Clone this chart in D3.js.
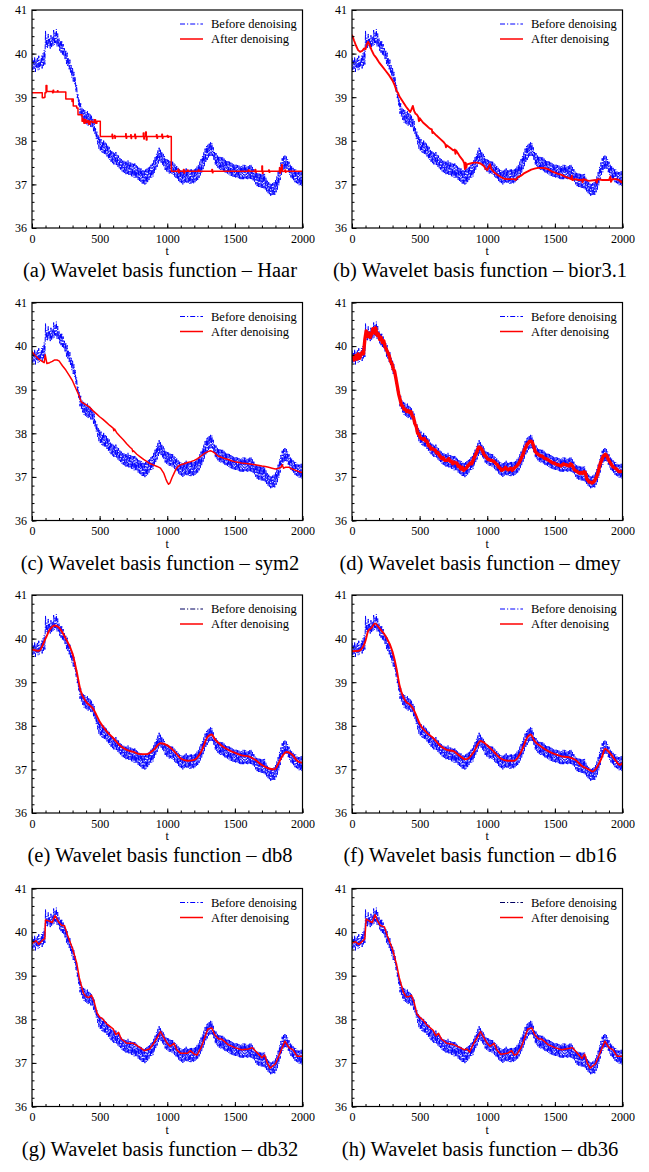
<!DOCTYPE html>
<html>
<head>
<meta charset="utf-8">
<script src="https://cdn.jsdelivr.net/npm/d3@7"></script>
<style>
html,body{margin:0;padding:0;background:#fff;}
svg{display:block;}
text{font-family:"Liberation Serif","Times New Roman",serif;fill:#000;}
</style>
</head>
<body>
<svg id="chart" width="649" height="1172"></svg>
<script>
// ---------------- DATA ----------------
const xTickLabels = [0, 500, 1000, 1500, 2000];
const yTickLabels = [36, 37, 38, 39, 40, 41];
const legendLabels = ["Before denoising", "After denoising"];
const captions = [
  "(a) Wavelet basis function \u2013 Haar",
  "(b) Wavelet basis function \u2013 bior3.1",
  "(c) Wavelet basis function \u2013 sym2",
  "(d) Wavelet basis function \u2013 dmey",
  "(e) Wavelet basis function \u2013 db8",
  "(f) Wavelet basis function \u2013 db16",
  "(g) Wavelet basis function \u2013 db32",
  "(h) Wavelet basis function \u2013 db36"
];

// Original (noisy) signal, sampled every 5 t from t = 0 to 2000
const beforeStep = 5;
const beforeValues = [
39.90,39.62,39.84,39.65,39.92,39.58,39.86,39.68,39.90,39.62,
39.95,39.64,39.86,39.70,39.95,39.66,40.00,39.72,40.08,39.75,
40.52,40.15,40.36,40.12,40.45,40.18,40.34,40.10,40.42,40.15,
40.38,40.18,40.54,40.20,40.48,40.24,40.56,40.16,40.46,40.15,
40.35,40.05,40.28,40.02,40.30,39.98,40.22,39.95,40.12,39.86,
40.08,39.76,40.02,39.70,39.90,39.64,39.86,39.55,39.73,39.45,
39.68,39.36,39.58,39.30,39.45,39.13,39.28,38.98,39.08,38.80,
38.95,38.62,38.86,38.55,38.76,38.48,38.72,38.42,38.70,38.40,
38.66,38.38,38.68,38.35,38.63,38.36,38.62,38.32,38.58,38.30,
38.52,38.22,38.45,38.15,38.30,38.04,38.22,37.92,38.12,37.82,
38.08,37.78,38.04,37.74,37.98,37.72,38.02,37.70,37.96,37.68,
37.95,37.64,37.90,37.60,37.86,37.56,37.80,37.52,37.76,37.48,
37.75,37.46,37.72,37.46,37.74,37.44,37.68,37.40,37.66,37.36,
37.62,37.34,37.58,37.30,37.56,37.28,37.54,37.25,37.52,37.22,
37.52,37.24,37.56,37.22,37.50,37.22,37.50,37.18,37.48,37.18,
37.47,37.15,37.48,37.15,37.44,37.14,37.42,37.10,37.40,37.08,
37.38,37.06,37.36,37.02,37.34,37.02,37.33,36.98,37.34,37.02,
37.36,37.04,37.40,37.10,37.42,37.14,37.45,37.16,37.48,37.18,
37.55,37.26,37.64,37.34,37.70,37.40,37.78,37.48,37.84,37.52,
37.80,37.50,37.75,37.45,37.70,37.40,37.65,37.33,37.60,37.30,
37.57,37.28,37.56,37.25,37.55,37.26,37.54,37.24,37.52,37.22,
37.48,37.18,37.45,37.15,37.42,37.12,37.38,37.06,37.35,37.05,
37.33,37.03,37.32,37.00,37.33,37.03,37.35,37.05,37.38,37.04,
37.33,37.03,37.32,37.02,37.34,37.00,37.36,37.04,37.33,37.02,
37.36,37.05,37.38,37.08,37.42,37.10,37.45,37.15,37.52,37.20,
37.58,37.26,37.65,37.35,37.74,37.42,37.82,37.50,37.88,37.56,
37.92,37.62,37.95,37.65,37.98,37.66,37.95,37.65,37.85,37.55,
37.75,37.45,37.72,37.42,37.68,37.38,37.65,37.35,37.63,37.33,
37.62,37.32,37.62,37.30,37.60,37.28,37.57,37.27,37.55,37.25,
37.53,37.23,37.52,37.20,37.50,37.18,37.48,37.18,37.47,37.17,
37.46,37.16,37.45,37.15,37.44,37.14,37.43,37.13,37.42,37.12,
37.42,37.12,37.45,37.12,37.46,37.14,37.44,37.13,37.42,37.12,
37.42,37.12,37.44,37.12,37.45,37.12,37.40,37.08,37.35,37.05,
37.30,37.00,37.28,36.96,37.26,36.94,37.26,36.94,37.24,36.92,
37.24,36.92,37.25,36.91,37.24,36.88,37.16,36.84,37.10,36.80,
37.05,36.76,37.03,36.74,37.02,36.74,37.03,36.75,37.05,36.76,
37.10,36.82,37.18,36.88,37.28,36.98,37.40,37.10,37.50,37.22,
37.60,37.28,37.64,37.34,37.66,37.36,37.64,37.34,37.58,37.28,
37.52,37.22,37.46,37.16,37.42,37.12,37.38,37.08,37.36,37.05,
37.34,37.03,37.30,37.00,37.28,36.98,37.28,36.98,37.30,36.96,
37.32
];

// Denoised signals, [t, value]
const haar = [[0,39.1],[72,39.1],[76,38.99],[90,39.0],[96,39.1],[104,39.27],[110,39.13],[150,39.13],[152,39.1],[156,39.16],[160,39.12],[185,39.12],[188,39.15],[192,39.12],[250,38.96],[290,38.96],[296,38.9],[300,38.96],[305,38.8],[330,38.75],[340,38.6],[370,38.45],[378,38.5],[384,38.4],[392,38.48],[400,38.42],[412,38.46],[420,38.38],[430,38.45],[445,38.42],[460,38.48],[470,38.4],[480,38.45],[505,38.1],[590,38.1],[592,38.15],[595,38.05],[598,38.1],[610,38.12],[613,38.06],[616,38.1],[690,38.1],[693,38.16],[696,38.06],[700,38.1],[730,38.14],[733,38.05],[736,38.1],[760,38.15],[764,38.05],[768,38.1],[820,38.1],[823,38.18],[827,38.04],[830,38.1],[840,38.2],[845,38.02],[850,38.1],[920,38.14],[924,38.06],[928,38.1],[960,38.15],[964,38.06],[968,38.1],[1000,38.12],[1004,38.08],[1010,38.1],[1030,37.3],[1080,37.35],[1084,37.27],[1088,37.3],[1120,37.34],[1124,37.26],[1128,37.3],[1150,37.33],[1154,37.3],[1230,37.33],[1234,37.3],[1330,37.34],[1334,37.27],[1338,37.3],[1600,37.33],[1604,37.3],[1650,37.34],[1654,37.28],[1658,37.3],[1700,37.42],[1704,37.25],[1708,37.3],[1750,37.33],[1754,37.28],[1758,37.3],[1830,37.38],[1834,37.26],[1838,37.32],[1845,37.45],[1850,37.3],[1870,37.33],[1874,37.28],[1878,37.3],[2000,37.3]];

const bior31 = [[0,40.43],[15,40.3],[30,40.18],[45,40.08],[60,40.04],[75,40.06],[90,40.12],[100,40.1],[110,40.22],[120,40.27],[130,40.2],[145,40.08],[160,39.98],[175,39.92],[190,39.85],[200,39.8],[225,39.7],[250,39.6],[275,39.5],[300,39.38],[315,39.28],[330,39.14],[340,39.1],[350,39.02],[375,38.9],[400,38.78],[415,38.72],[430,38.66],[440,38.72],[450,38.8],[460,38.68],[470,38.62],[480,38.6],[490,38.55],[495,38.45],[500,38.52],[525,38.42],[550,38.35],[575,38.28],[590,38.26],[595,38.18],[600,38.2],[625,38.12],[650,38.05],[675,37.98],[690,37.92],[695,37.85],[700,37.9],[725,37.84],[750,37.78],[760,37.8],[765,37.7],[770,37.78],[800,37.63],[820,37.55],[830,37.48],[835,37.35],[840,37.5],[845,37.38],[850,37.46],[875,37.48],[900,37.5],[925,37.5],[950,37.48],[975,37.42],[990,37.35],[1000,37.33],[1010,37.4],[1020,37.46],[1030,37.35],[1050,37.28],[1075,37.22],[1100,37.17],[1125,37.13],[1150,37.12],[1175,37.12],[1200,37.12],[1210,37.1],[1225,37.16],[1250,37.2],[1275,37.26],[1300,37.3],[1325,37.34],[1350,37.36],[1375,37.38],[1400,37.38],[1425,37.37],[1450,37.35],[1475,37.3],[1500,37.27],[1525,37.24],[1550,37.22],[1575,37.18],[1600,37.15],[1620,37.12],[1625,37.2],[1630,37.1],[1650,37.12],[1675,37.1],[1700,37.1],[1705,37.05],[1710,37.12],[1750,37.08],[1800,37.1],[1810,37.04],[1815,37.12],[1850,37.1],[1875,37.1],[1900,37.1],[1910,37.18],[1915,37.06],[1925,37.12],[1950,37.12],[1975,37.1],[1990,37.05],[2000,37.08]];

const sym2 = [[0,39.87],[25,39.78],[50,39.7],[75,39.65],[90,39.62],[98,39.8],[104,39.7],[110,39.6],[130,39.62],[150,39.65],[165,39.68],[185,39.68],[200,39.66],[225,39.55],[250,39.45],[275,39.33],[300,39.2],[325,39.02],[350,38.85],[360,38.75],[365,38.72],[375,38.7],[400,38.65],[425,38.6],[450,38.52],[475,38.45],[500,38.38],[525,38.32],[550,38.25],[575,38.18],[600,38.12],[605,38.06],[610,38.1],[625,38.02],[650,37.93],[675,37.85],[700,37.76],[725,37.68],[740,37.64],[745,37.58],[750,37.6],[775,37.52],[800,37.46],[825,37.4],[850,37.35],[875,37.3],[900,37.27],[925,37.24],[950,37.2],[975,37.08],[990,36.95],[1000,36.88],[1010,36.83],[1020,36.86],[1035,36.98],[1050,37.08],[1065,37.18],[1080,37.24],[1100,37.28],[1125,37.3],[1150,37.33],[1175,37.35],[1200,37.38],[1225,37.42],[1250,37.48],[1275,37.54],[1300,37.58],[1320,37.6],[1335,37.58],[1350,37.55],[1375,37.48],[1400,37.45],[1425,37.42],[1450,37.4],[1475,37.37],[1500,37.35],[1550,37.32],[1600,37.3],[1650,37.28],[1700,37.25],[1725,37.24],[1750,37.22],[1775,37.2],[1800,37.18],[1825,37.2],[1840,37.22],[1850,37.28],[1860,37.2],[1875,37.22],[1900,37.22],[1925,37.18],[1950,37.15],[1975,37.12],[2000,37.1]];

// dmey output, sampled every 10 t from t = 5 to 1995
const dmeyStart = 5;
const dmeyStep = 10;
const dmeyValues = [
39.80,39.68,39.78,39.70,39.82,39.72,39.80,39.86,39.82,40.15,
40.35,40.22,40.30,40.20,40.28,40.40,40.30,40.42,40.25,40.28,
40.15,40.20,40.08,40.12,39.98,39.92,39.85,39.78,39.65,39.60,
39.48,39.42,39.25,39.08,38.90,38.78,38.65,38.62,38.55,38.55,
38.50,38.52,38.48,38.50,38.40,38.36,38.22,38.16,38.00,37.98,
37.90,37.88,37.86,37.88,37.82,37.82,37.72,37.70,37.64,37.65,
37.62,37.62,37.55,37.56,37.50,37.46,37.42,37.44,37.38,37.38,
37.38,37.42,37.36,37.36,37.30,37.34,37.32,37.32,37.24,37.25,
37.18,37.22,37.15,37.18,37.20,37.25,37.28,37.32,37.30,37.38,
37.45,37.52,37.58,37.68,37.68,37.65,37.60,37.52,37.48,37.45,
37.40,37.40,37.38,37.38,37.36,37.34,37.30,37.28,37.22,37.20,
37.15,37.16,37.18,37.22,37.18,37.16,37.18,37.20,37.15,37.18,
37.22,37.24,37.28,37.32,37.38,37.45,37.52,37.62,37.68,37.75,
37.78,37.82,37.82,37.78,37.68,37.58,37.55,37.52,37.50,37.48,
37.48,37.45,37.42,37.42,37.40,37.38,37.36,37.34,37.32,37.32,
37.30,37.28,37.28,37.26,37.25,37.28,37.30,37.28,37.28,37.26,
37.25,37.30,37.28,37.22,37.16,37.14,37.12,37.10,37.08,37.10,
37.08,37.12,37.10,36.96,36.92,36.88,36.88,36.86,36.88,36.92,
36.98,37.06,37.18,37.30,37.38,37.46,37.50,37.52,37.48,37.40,
37.35,37.30,37.25,37.22,37.20,37.18,37.15,37.12,37.12,37.15
];

const db8 = [[0,39.75],[50,39.72],[100,40.0],[130,40.2],[170,40.3],[200,40.25],[250,40.0],[300,39.65],[330,39.25],[360,38.8],[400,38.55],[450,38.4],[500,38.1],[550,37.88],[600,37.72],[650,37.55],[700,37.45],[750,37.4],[800,37.35],[850,37.35],[900,37.45],[950,37.6],[1000,37.55],[1050,37.42],[1100,37.25],[1150,37.2],[1200,37.22],[1250,37.4],[1300,37.75],[1330,37.8],[1350,37.7],[1400,37.55],[1450,37.45],[1500,37.38],[1550,37.32],[1600,37.3],[1650,37.22],[1700,37.1],[1750,37.02],[1790,37.0],[1850,37.3],[1880,37.4],[1920,37.35],[1960,37.2],[2000,37.15]];

const db16 = [[0,39.71],[50,39.72],[80,39.8],[100,39.95],[120,40.18],[145,40.25],[170,40.35],[200,40.25],[250,40.05],[300,39.7],[330,39.3],[350,38.95],[380,38.65],[400,38.55],[430,38.48],[450,38.4],[480,38.2],[500,38.05],[550,37.85],[600,37.72],[650,37.55],[700,37.45],[750,37.42],[800,37.3],[840,37.23],[870,37.28],[900,37.4],[950,37.65],[1000,37.55],[1050,37.4],[1100,37.25],[1150,37.2],[1200,37.2],[1250,37.4],[1300,37.75],[1320,37.8],[1350,37.65],[1400,37.52],[1450,37.42],[1500,37.35],[1550,37.3],[1600,37.28],[1650,37.22],[1700,37.08],[1750,37.0],[1780,36.95],[1800,37.0],[1850,37.3],[1870,37.47],[1900,37.4],[1950,37.2],[1980,37.1],[2000,37.15]];

const db32 = [[0,39.74],[30,39.8],[50,39.72],[80,39.82],[95,39.85],[100,40.28],[130,40.25],[150,40.22],[170,40.38],[200,40.22],[220,40.15],[240,40.15],[260,39.95],[300,39.62],[330,39.3],[350,38.95],[380,38.6],[400,38.52],[420,38.5],[440,38.55],[460,38.4],[480,38.15],[500,38.05],[520,38.02],[550,37.9],[600,37.78],[620,37.65],[640,37.7],[660,37.55],[700,37.45],[750,37.45],[800,37.35],[830,37.28],[850,37.3],[870,37.32],[900,37.45],[930,37.6],[950,37.72],[980,37.55],[1000,37.45],[1020,37.38],[1050,37.45],[1070,37.3],[1100,37.22],[1150,37.22],[1170,37.28],[1200,37.2],[1220,37.18],[1250,37.35],[1300,37.78],[1330,37.8],[1350,37.65],[1380,37.55],[1400,37.55],[1450,37.42],[1500,37.35],[1550,37.3],[1600,37.32],[1630,37.35],[1650,37.28],[1700,37.12],[1720,37.18],[1740,37.0],[1760,36.88],[1800,36.98],[1830,37.2],[1870,37.5],[1900,37.35],[1930,37.3],[1960,37.15],[2000,37.15]];

const db36 = [[0,39.75],[25,39.78],[50,39.72],[80,39.8],[95,39.85],[105,40.3],[130,40.25],[150,40.22],[170,40.4],[190,40.25],[210,40.15],[240,40.12],[260,39.92],[300,39.6],[330,39.25],[350,38.95],[380,38.62],[400,38.52],[420,38.52],[440,38.55],[460,38.38],[480,38.12],[500,38.05],[520,38.0],[550,37.88],[600,37.75],[620,37.62],[640,37.68],[660,37.55],[700,37.45],[750,37.42],[800,37.35],[830,37.3],[850,37.32],[870,37.25],[900,37.45],[930,37.6],[950,37.72],[980,37.55],[1000,37.45],[1020,37.38],[1050,37.45],[1070,37.3],[1100,37.2],[1150,37.22],[1180,37.28],[1200,37.18],[1220,37.2],[1250,37.35],[1300,37.78],[1330,37.8],[1350,37.65],[1380,37.55],[1400,37.55],[1450,37.42],[1500,37.35],[1550,37.3],[1600,37.33],[1630,37.35],[1650,37.28],[1700,37.1],[1720,37.2],[1740,37.0],[1760,36.88],[1800,36.98],[1830,37.2],[1870,37.5],[1900,37.35],[1930,37.3],[1960,37.15],[2000,37.15]];

// ---------------- DRAWING ----------------
const svg = d3.select("#chart");
const beforeData = beforeValues.map((v, i) => [i * beforeStep, v]);
const dmeyData = dmeyValues.map((v, i) => [dmeyStart + i * dmeyStep, v]);

const panels = [
  {data: haar,   curve: d3.curveStepAfter, w: 1.5, legendBlue: "#0000ff"},
  {data: bior31, curve: d3.curveLinear,    w: 1.9, legendBlue: "#0000ff"},
  {data: sym2,   curve: d3.curveLinear,    w: 1.5, legendBlue: "#0000ff"},
  {data: dmeyData, curve: d3.curveLinear,  w: 3.4, legendBlue: "#0000ff"},
  {data: db8,    curve: d3.curveMonotoneX, w: 1.9, legendBlue: "#000060"},
  {data: db16,   curve: d3.curveMonotoneX, w: 1.9, legendBlue: "#0000ff"},
  {data: db32,   curve: d3.curveLinear,    w: 1.5, legendBlue: "#0000ff"},
  {data: db36,   curve: d3.curveLinear,    w: 1.5, legendBlue: "#000060"}
];

const colLeft = [32, 352];
const rowTop = [10, 302.5, 595, 888.5];
const W = 270.5, H = 218;
const blue = "#0000ff", red = "#ff0000";
const dash = "5,1.5,1.2,1.5";

panels.forEach((p, idx) => {
  const col = idx % 2, row = Math.floor(idx / 2);
  const g = svg.append("g").attr("transform", `translate(${colLeft[col]},${rowTop[row]})`);
  const x = d3.scaleLinear().domain([0, 2000]).range([0, W]);
  const y = d3.scaleLinear().domain([36, 41]).range([H, 0]);

  const clipId = "clip" + idx;
  g.append("clipPath").attr("id", clipId).append("rect").attr("width", W).attr("height", H);

  const plot = g.append("g").attr("clip-path", `url(#${clipId})`);
  plot.append("path").datum(beforeData)
    .attr("d", d3.line().x(d => x(d[0])).y(d => y(d[1])))
    .attr("fill", "none").attr("stroke", blue).attr("stroke-width", 1)
    .attr("stroke-dasharray", dash);
  plot.append("path").datum(p.data)
    .attr("d", d3.line().x(d => x(d[0])).y(d => y(d[1])).curve(p.curve))
    .attr("fill", "none").attr("stroke", red).attr("stroke-width", p.w)
    .attr("stroke-linejoin", "round");

  // minor ticks
  const xMinor = d3.axisBottom(x).tickValues(d3.range(0, 2001, 100)).tickSize(-2.5).tickFormat("");
  const yMinor = d3.axisLeft(y).tickValues(d3.range(36, 41.001, 0.2)).tickSize(-2.5).tickFormat("");
  g.append("g").attr("transform", `translate(0,${H})`).call(xMinor).call(s => s.select(".domain").remove());
  g.append("g").call(yMinor).call(s => s.select(".domain").remove());

  // major axes
  const xAxis = d3.axisBottom(x).tickValues(xTickLabels).tickSize(-4.5).tickPadding(6).tickFormat(d3.format("d"));
  const yAxis = d3.axisLeft(y).tickValues(yTickLabels).tickSize(-4.5).tickPadding(5).tickFormat(d3.format("d"));
  const gx = g.append("g").attr("transform", `translate(0,${H})`).call(xAxis);
  const gy = g.append("g").call(yAxis);
  [gx, gy].forEach(a => {
    a.select(".domain").remove();
    a.selectAll("text").style("font-family", '"Liberation Serif", serif').style("font-size", "12px").attr("fill", "#000");
  });
  g.selectAll(".tick line").attr("stroke", "#000").attr("stroke-width", 1);

  // frame
  g.append("rect").attr("width", W).attr("height", H)
    .attr("fill", "none").attr("stroke", "#000").attr("stroke-width", 1.2);

  // axis title
  g.append("text").attr("x", W / 2).attr("y", H + 27).attr("text-anchor", "middle")
    .style("font-size", "12px").text("t");

  // legend
  const lg = g.append("g").attr("transform", `translate(148,0)`);
  lg.append("line").attr("x1", 0).attr("x2", 23).attr("y1", 14).attr("y2", 14)
    .attr("stroke", p.legendBlue).attr("stroke-width", 1).attr("stroke-dasharray", "5,2,1.2,2");
  lg.append("line").attr("x1", 0).attr("x2", 23).attr("y1", 29).attr("y2", 29)
    .attr("stroke", red).attr("stroke-width", 1.5);
  lg.append("text").attr("x", 31).attr("y", 14).attr("dy", "0.35em")
    .style("font-size", "12.5px").text(legendLabels[0]);
  lg.append("text").attr("x", 31).attr("y", 29).attr("dy", "0.35em")
    .style("font-size", "12.5px").text(legendLabels[1]);

  // caption
  g.append("text").attr("x", 128).attr("y", H + 49).attr("text-anchor", "middle")
    .style("font-size", "20.5px").text(captions[idx]);
});
</script>
</body>
</html>
